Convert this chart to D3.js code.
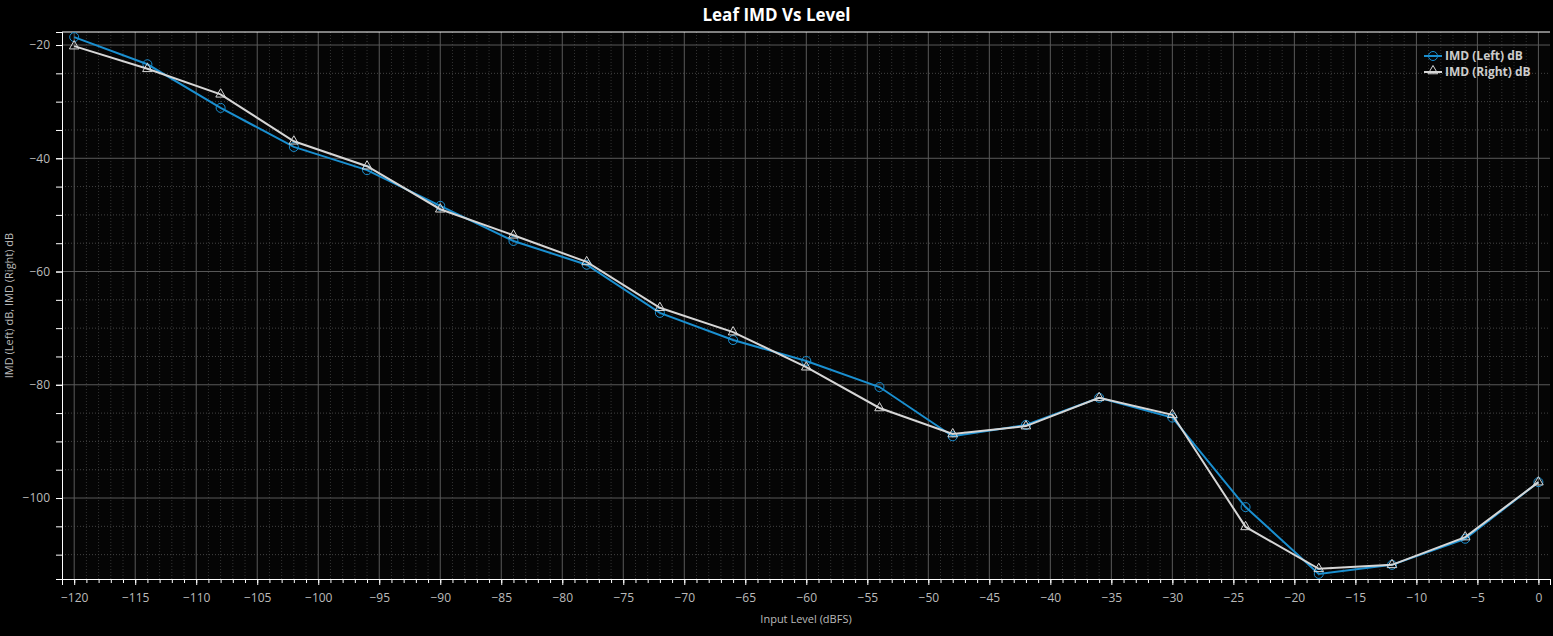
<!DOCTYPE html>
<html><head><meta charset="utf-8">
<script src="https://cdn.jsdelivr.net/npm/d3@7"></script>
<style>body{margin:0;background:#000;} text{font-family:"Open Sans",sans-serif;}</style>
</head><body>
<script>
var levels = [-120,-114,-108,-102,-96,-90,-84,-78,-72,-66,-60,-54,-48,-42,-36,-30,-24,-18,-12,-6,0];
var imdLeft = [-18.6,-23.4,-31.1,-38.0,-42.1,-48.4,-54.6,-58.8,-67.3,-72.1,-75.8,-80.4,-89.1,-87.1,-82.3,-85.8,-101.6,-113.4,-111.8,-107.2,-97.2];
var imdRight = [-20.2,-24.2,-28.7,-37.0,-41.4,-49.0,-53.6,-58.3,-66.4,-70.7,-76.9,-84.1,-88.7,-87.3,-82.3,-85.3,-105.1,-112.5,-111.8,-106.9,-97.2];
var seriesNames = ["IMD (Left) dB", "IMD (Right) dB"];
var seriesColors = ["#1a8fd0", "#d6d6d6"];

var margin = {top: 32, right: 3, bottom: 57, left: 62},
    width = 1553 - margin.left - margin.right,
    height = 636 - margin.top - margin.bottom;

var xScale = d3.scaleLinear().domain([-121, 0.95]).range([0, width]);
var yScale = d3.scaleLinear().domain([-114.3, -17.7]).range([height, 0]);

var svg = d3.select("body").append("svg").attr("width", 1553).attr("height", 636);
svg.append("text").attr("x", 1553/2).attr("y", 21).attr("text-anchor", "middle")
    .attr("fill", "#fff").attr("font-size", 17).attr("font-weight", "bold").text("Leaf IMD Vs Level");

var g = svg.append("g").attr("transform", "translate(" + margin.left + "," + margin.top + ")");
g.append("rect").attr("width", width).attr("height", height).attr("fill", "#050505");

// minor grid
g.append("g").selectAll("line").data(d3.range(-120, 1, 1).filter(function(d) { return d % 5 != 0; }))
    .enter().append("line")
    .attr("x1", function(d) { return xScale(d); }).attr("x2", function(d) { return xScale(d); })
    .attr("y1", 0).attr("y2", height).attr("stroke", "#333").attr("stroke-dasharray", "1,2");
g.append("g").selectAll("line").data(d3.range(-110, -15, 5).filter(function(d) { return d % 20 != 0; }))
    .enter().append("line")
    .attr("y1", function(d) { return yScale(d); }).attr("y2", function(d) { return yScale(d); })
    .attr("x1", 0).attr("x2", width).attr("stroke", "#444").attr("stroke-dasharray", "1,2");
// major grid
g.append("g").selectAll("line").data(d3.range(-120, 1, 5))
    .enter().append("line")
    .attr("x1", function(d) { return xScale(d); }).attr("x2", function(d) { return xScale(d); })
    .attr("y1", 0).attr("y2", height).attr("stroke", "#5a5a5a");
g.append("g").selectAll("line").data(d3.range(-100, -19, 20))
    .enter().append("line")
    .attr("y1", function(d) { return yScale(d); }).attr("y2", function(d) { return yScale(d); })
    .attr("x1", 0).attr("x2", width).attr("stroke", "#5a5a5a");

// axes
g.append("g").attr("transform", "translate(0," + height + ")")
    .call(d3.axisBottom(xScale).tickValues(d3.range(-120, 1, 5)).tickSize(6).tickPadding(8));
g.append("g").attr("transform", "translate(0," + height + ")")
    .call(d3.axisBottom(xScale).tickValues(d3.range(-120, 1, 1)).tickSize(4).tickFormat(""));
g.append("g")
    .call(d3.axisLeft(yScale).tickValues(d3.range(-100, -19, 20)).tickSize(6).tickPadding(6));
g.append("g").call(d3.axisLeft(yScale).tickValues(d3.range(-110, -15, 5)).tickSize(6).tickFormat(""));
g.selectAll(".domain, .tick line").attr("stroke", "#fff");
g.selectAll(".tick text").attr("fill", "#bbb").attr("font-size", 12).attr("font-family", "Open Sans");
g.append("line").attr("x1", 0).attr("x2", width).attr("y1", 0).attr("y2", 0).attr("stroke", "#fff");

svg.append("text").attr("x", 806).attr("y", 623).attr("text-anchor", "middle")
    .attr("fill", "#bbb").attr("font-size", 11).text("Input Level (dBFS)");
svg.append("text").attr("transform", "translate(13," + (margin.top + height/2) + ") rotate(-90)")
    .attr("text-anchor", "middle").attr("fill", "#bbb").attr("font-size", 11).text("IMD (Left) dB, IMD (Right) dB");

var line = d3.line().x(function(d) { return xScale(d.x); }).y(function(d) { return yScale(d.y); });
var allSeries = [imdLeft, imdRight];
var triangle = d3.symbol().type(d3.symbolTriangle).size(40);

[0, 1].forEach(function(s) {
  var data = levels.map(function(x, i) { return {x: x, y: allSeries[s][i]}; });
  g.append("path").datum(data).attr("d", line).attr("fill", "none")
      .attr("stroke", seriesColors[s]).attr("stroke-width", 2);
  if (s == 0) {
    g.append("g").selectAll("circle").data(data).enter().append("circle")
        .attr("cx", function(d) { return xScale(d.x); }).attr("cy", function(d) { return yScale(d.y); })
        .attr("r", 4.5).attr("fill", "none").attr("stroke", seriesColors[s]).attr("stroke-width", 1);
  } else {
    g.append("g").selectAll("path").data(data).enter().append("path")
        .attr("d", triangle)
        .attr("transform", function(d) { return "translate(" + xScale(d.x) + "," + yScale(d.y) + ")"; })
        .attr("fill", "none").attr("stroke", seriesColors[s]).attr("stroke-width", 1);
  }
});

// legend
var leg = svg.append("g").attr("transform", "translate(1424,56)");
seriesNames.forEach(function(n, i) {
  var ly = i * 16;
  leg.append("line").attr("x1", 0).attr("x2", 18).attr("y1", ly).attr("y2", ly)
      .attr("stroke", seriesColors[i]).attr("stroke-width", 2);
  if (i == 0) leg.append("circle").attr("cx", 9).attr("cy", ly).attr("r", 4.5)
      .attr("fill", "none").attr("stroke", seriesColors[i]);
  else leg.append("path").attr("d", triangle).attr("transform", "translate(9," + (ly - 1) + ")")
      .attr("fill", "none").attr("stroke", seriesColors[i]);
  leg.append("text").attr("x", 21).attr("y", ly + 4).attr("fill", "#ccc")
      .attr("font-size", 12).attr("font-weight", "bold").text(n);
});
</script>
</body></html>
